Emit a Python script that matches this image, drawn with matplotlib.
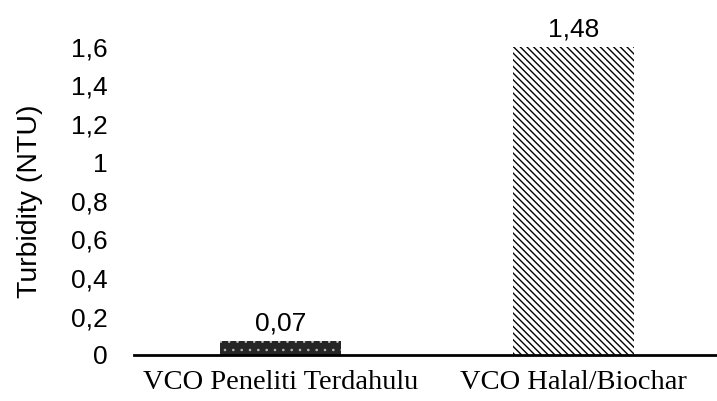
import matplotlib
matplotlib.use("Agg")
import matplotlib.pyplot as plt

categories = ["VCO Peneliti Terdahulu", "VCO Halal/Biochar"]
# bar heights as drawn in the reference picture, and the printed data labels
bar_heights = [0.075, 1.6]
value_labels = ["0,07", "1,48"]
yticks = [0, 0.2, 0.4, 0.6, 0.8, 1.0, 1.2, 1.4, 1.6]
ytick_labels = ["0", "0,2", "0,4", "0,6", "0,8", "1", "1,2", "1,4", "1,6"]

bar_faces = ["#262626", "white"]
bar_hatch_colors = ["#bbbbbb", "black"]
bar_hatches = ["..", "\\\\\\\\\\"]
bar_hatch_lw = [0.6, 1.0]

W, H = 717, 401
fig = plt.figure(figsize=(W / 100, H / 100), dpi=100)
ax = fig.add_axes([134 / W, (H - 355) / H, 586 / W, 308 / H])

x = list(range(len(categories)))
for i in x:
    with plt.rc_context({"hatch.linewidth": bar_hatch_lw[i]}):
        ax.bar(x[i], bar_heights[i], width=0.41, linewidth=0,
               facecolor=bar_faces[i], edgecolor=bar_hatch_colors[i],
               hatch=bar_hatches[i])
    ax.annotate(value_labels[i], (x[i], bar_heights[i]), xytext=(0, 4),
                textcoords="offset points", ha="center", va="bottom",
                fontsize=19, family="Liberation Sans")

ax.set_xlim(-0.5, 1.5)
ax.set_ylim(0, 1.6)
ax.set_yticks(yticks)
ax.set_yticklabels(ytick_labels, fontsize=19, family="Liberation Sans")
ax.set_xticks(x)
ax.set_xticklabels(categories, fontsize=20.5, family="Liberation Serif")
ax.tick_params(axis="both", length=0)
ax.tick_params(axis="y", pad=19)
ax.tick_params(axis="x", pad=11)
for s in ["top", "right", "left"]:
    ax.spines[s].set_visible(False)
ax.spines["bottom"].set_linewidth(2)
ax.set_ylabel("Turbidity (NTU)", fontsize=20.5, family="Liberation Sans", labelpad=20)

fig.savefig("out.png", dpi=100)
